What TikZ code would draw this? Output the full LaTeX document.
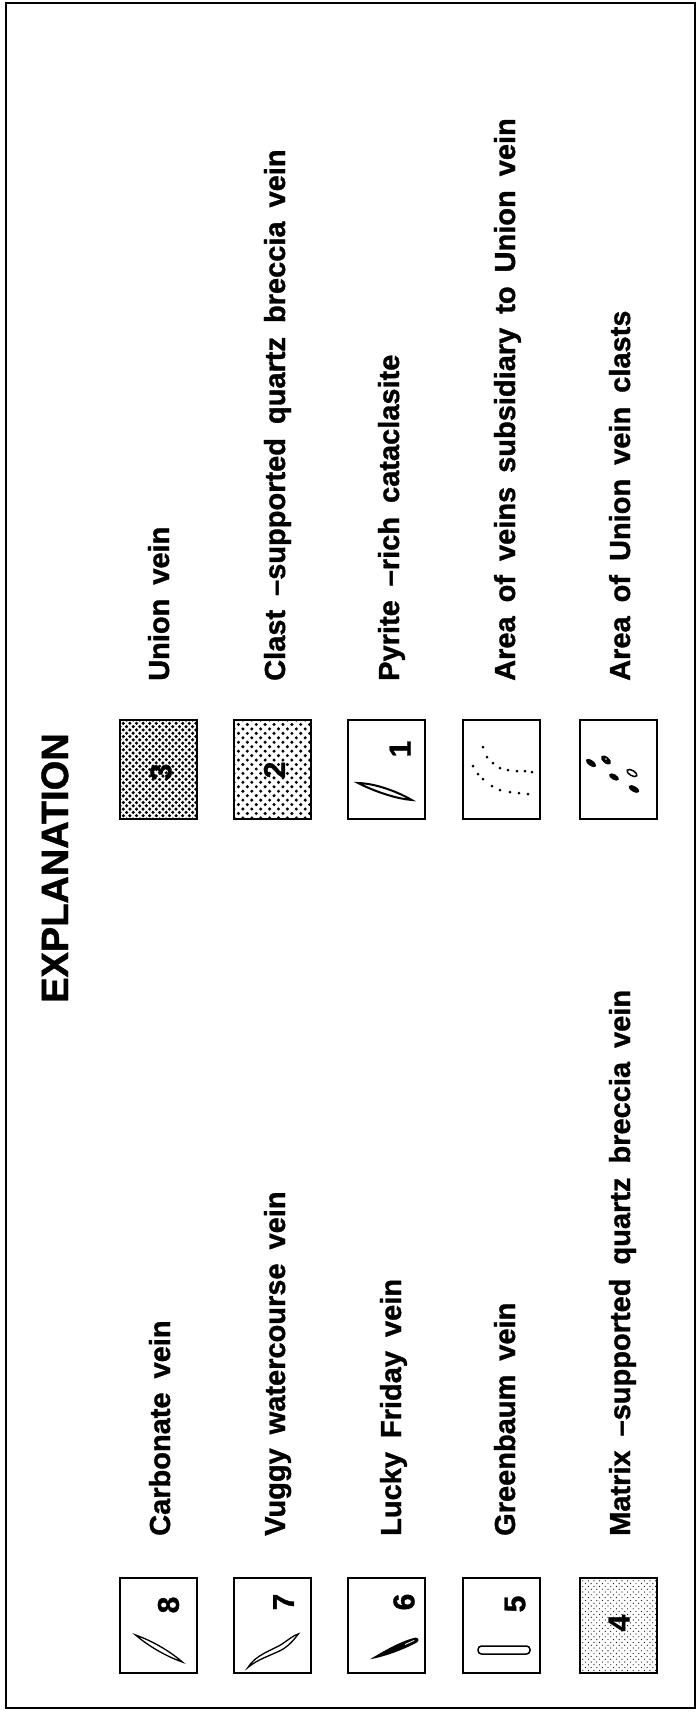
\documentclass[tikz,border=0pt]{standalone}
\usepackage{fontspec}
\setmainfont{Liberation Sans}[BoldFeatures={FakeBold=1.2}]
\newcommand\widesp{\spaceskip 14pt\relax}
\newcommand\stipplebox[6]{%
  \begin{scope}
    \clip (#1,#2) rectangle (#3,#4);
    \pgfmathtruncatemacro\nx{(#3-#1)/(2*#5)+1}
    \pgfmathtruncatemacro\ny{(#4-#2)/(2*#5)+1}
    \foreach \i in {0,...,\nx}{
      \foreach \j in {0,...,\ny}{
        \fill ({#1+\i*2*#5},{#2+\j*2*#5}) circle (#6);
        \fill ({#1+#5+\i*2*#5},{#2+#5+\j*2*#5}) circle (#6);
      }
    }
  \end{scope}}
\begin{document}
\begin{tikzpicture}[x=1pt,y=-1pt,
  lbl/.style={rotate=90,anchor=base west,inner sep=0pt,
    font=\bfseries\fontsize{29}{29}\selectfont\widesp},
  num/.style={rotate=90,inner sep=0pt,font=\bfseries\fontsize{30}{30}\selectfont},
  legbox/.style={draw,line width=1.6pt,minimum width=77pt,inner sep=0pt},
  toprow/.style={legbox,minimum height=99pt},
  botrow/.style={legbox,minimum height=95pt},
  vein/.style={line width=1.3pt,fill=white}]
\useasboundingbox (0,0) rectangle (699,1713);
% outer frame
\draw[line width=2.2pt] (6,3) rectangle (695,1708);

% stippled fills
\stipplebox{120}{720}{197}{819}{3.3}{1.75}
\stipplebox{234}{720}{311}{819}{4.45}{1.7}
\stipplebox{580}{1578}{657}{1673}{2.8}{0.6}

% boxes, top row
\node[toprow,line width=2.2pt] (b3) at (158.5,769.5) {};
\node[toprow,line width=2.2pt] (b2) at (272.5,769.5) {};
\node[toprow] (b1) at (386.5,769.5) {};
\node[toprow] (bv) at (501.5,769.5) {};
\node[toprow] (bc) at (618.5,769.5) {};
% boxes, bottom row
\node[botrow] (b8) at (158.5,1625.5) {};
\node[botrow] (b7) at (272.5,1625.5) {};
\node[botrow] (b6) at (386.5,1625.5) {};
\node[botrow] (b5) at (501.5,1625.5) {};
\node[botrow] (b4) at (618.5,1625.5) {};

% title
\node[rotate=90,anchor=base west,inner sep=0pt,font=\bfseries\fontsize{38}{38}\selectfont] (title) at (68,1003) {EXPLANATION};

% labels, top row
\node[lbl] (t3) at (169,681) {Union vein};
\node[lbl] (t2) at (285,681) {Clast –supported quartz breccia vein};
\node[lbl] (t1) at (399,681) {Pyrite –rich cataclasite};
\node[lbl] (tv) at (515,681) {Area of veins subsidiary to Union vein};
\node[lbl] (tc) at (630,681) {Area of Union vein clasts};
% labels, bottom row
\node[lbl] (t8) at (170,1536) {Carbonate vein};
\node[lbl] (t7) at (285,1536) {Vuggy watercourse vein};
\node[lbl] (t6) at (401,1536) {Lucky Friday vein};
\node[lbl] (t5) at (515,1536) {Greenbaum vein};
\node[lbl] (t4) at (630,1536) {Matrix –supported quartz breccia vein};

% digits
\node[num] (d3) at (161,772) {3};
\node[num] (d2) at (274.5,770) {2};
\node[num] (d1) at (400,749) {1};
\node[num] (d8) at (168.5,1605) {8};
\node[num] (d7) at (283.5,1602) {7};
\node[num] (d6) at (404,1602) {6};
\node[num] (d5) at (515,1604) {5};
\node[num] (d4) at (619,1623) {4};

% vein symbols
\begin{scope}[shift={(159,1648.5)},rotate=-30]
  \draw[vein] (-27,0) .. controls (-10,-3.2) and (10,-3.2) .. (27,0)
    .. controls (10,3.2) and (-10,3.2) .. (-27,0) -- cycle;
\end{scope}
\begin{scope}[shift={(274,1652.5)},rotate=26]
  \draw[vein] (-30,2) .. controls (-18,-6) and (0,-3) .. (10,-4)
    .. controls (18,-5) and (25,-7) .. (30,-6)
    .. controls (24,-3) and (16,1) .. (6,1)
    .. controls (-6,1) and (-18,-1) .. (-30,2) -- cycle;
\end{scope}
\begin{scope}[shift={(394,1649)},rotate=21]
  \fill (-26,1) .. controls (-10,-2) and (10,-5) .. (24,-3)
    .. controls (27,-2) and (27,1) .. (24,2)
    .. controls (10,4) and (-10,4) .. (-26,1) -- cycle;
  \draw[white,line width=0.8pt] (12,-0.3) -- (22,-0.8);
\end{scope}
\draw[line width=1.5pt,rounded corners=3.5pt] (478,1646) rectangle (530,1654);
\begin{scope}[shift={(385,791)},rotate=-16.5]
  \draw[line width=2pt,fill=white] (-28,0) .. controls (-12,-4.5) and (12,-3) .. (28,1)
    .. controls (12,4.5) and (-12,3) .. (-28,0) -- cycle;
\end{scope}

% subsidiary veins (dotted traces)
\foreach \p in {(483,747),(487,757),(493,763),(500,768),(508,770),(517,771),(525,771),(532,772),
                (473,766),(478,774),(483,779),(492,786),(500,790),(510,792),(519,793),(528,794)}
  \fill \p circle (1.5);

% Union vein clasts
\fill[rotate around={-35:(591,763)}] (591,763) ellipse (6 and 2.8);
\fill[rotate around={-40:(606,760)}] (606,760) ellipse (6 and 3.2);
\fill[white] (606,759) circle (0.9);
\fill[rotate around={-30:(614,777)}] (614,777) ellipse (5.5 and 2.8);
\draw[line width=1.5pt,rotate around={-30:(632,773)}] (632,773) ellipse (5.5 and 2.6);
\fill[rotate around={-30:(634,789)}] (634,789) ellipse (6 and 2.8);
\end{tikzpicture}
\end{document}
